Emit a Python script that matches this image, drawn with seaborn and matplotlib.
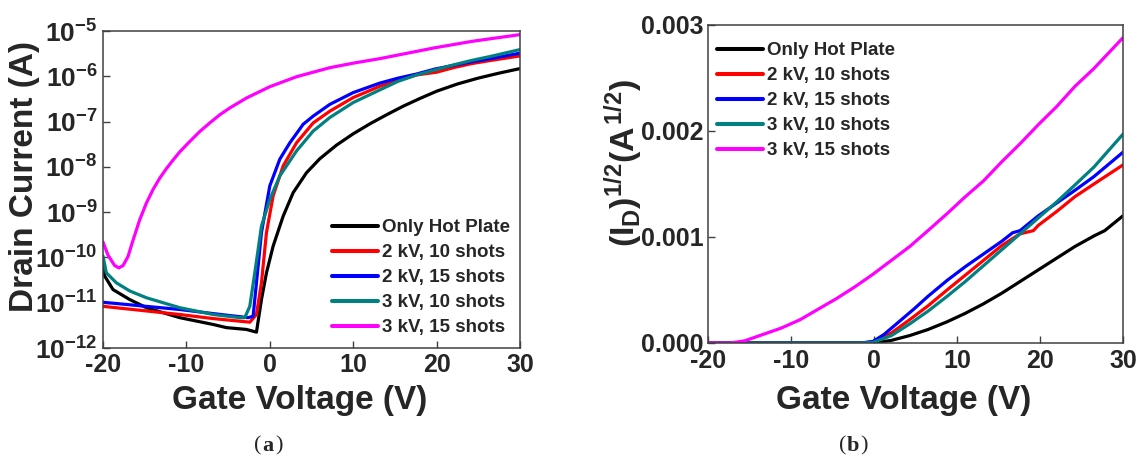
import numpy as np
import pandas as pd
import matplotlib
matplotlib.use("Agg")
import matplotlib.pyplot as plt
import seaborn as sns

# ---------------- data ----------------
labels = ["Only Hot Plate", "2 kV, 10 shots", "2 kV, 15 shots", "3 kV, 10 shots", "3 kV, 15 shots"]
colors = ["#000000", "#ff0000", "#0000ff", "#008080", "#ff00ff"]

# Panel (a): gate voltage (V) and log10 of drain current (A)
va_black = [-20, -19.8, -18.8, -16.8, -14.8, -10.8, -6.8, -5.2, -2.8, -1.6, -1.0, -0.4, 0.4, 1.6, 2.8, 4.4, 6.0, 8.0, 10, 12, 14, 16, 18, 20, 22.5, 25, 27.5, 30]
la_black = [-10.05, -10.41, -10.71, -10.93, -11.11, -11.33, -11.48, -11.55, -11.59, -11.65, -10.93, -10.34, -9.75, -9.09, -8.57, -8.13, -7.82, -7.52, -7.27, -7.05, -6.85, -6.66, -6.49, -6.33, -6.17, -6.04, -5.93, -5.83]

va_red = [-20, -10.8, -6.8, -2.4, -1.6, -1.0, -0.4, 0.4, 1.6, 3.2, 5.2, 7.2, 10, 13.2, 15.4, 17.6, 20, 22, 24.2, 26.5, 30]
la_red = [-11.08, -11.26, -11.35, -11.43, -11.26, -10.56, -9.45, -8.64, -7.98, -7.47, -7.03, -6.77, -6.47, -6.22, -6.09, -5.97, -5.91, -5.81, -5.72, -5.65, -5.55]

va_blue = [-20, -10.8, -6.8, -2.6, -2.0, -1.6, -1.0, 0, 1.2, 2.4, 4.0, 5.2, 7.2, 10, 13.2, 15.4, 17.6, 19.8, 22, 24.2, 26.5, 30]
la_blue = [-10.99, -11.15, -11.24, -11.33, -11.30, -10.56, -9.45, -8.42, -7.83, -7.47, -7.06, -6.88, -6.62, -6.36, -6.15, -6.04, -5.95, -5.84, -5.76, -5.68, -5.61, -5.49]

va_teal = [-20, -19.6, -18.4, -16.8, -14.8, -10.8, -6.8, -3.6, -3.0, -2.4, -1.8, -1.0, 0, 1.2, 3.2, 5.2, 7.2, 10, 13.2, 15.4, 17.6, 19.8, 22, 24.2, 26.5, 30]
la_teal = [-9.97, -10.34, -10.56, -10.74, -10.89, -11.11, -11.26, -11.33, -11.33, -11.08, -10.34, -9.31, -8.72, -8.20, -7.65, -7.21, -6.91, -6.58, -6.30, -6.11, -5.97, -5.86, -5.75, -5.65, -5.56, -5.41]

va_mag = [-20, -19.4, -18.6, -18.1, -17.6, -17.0, -16.4, -15.6, -14.8, -14.0, -13.2, -12.4, -11.6, -10.8, -9.6, -8.4, -7.2, -6.0, -4.8, -2.8, 0, 3.2, 7.2, 10, 13.2, 15.4, 17.6, 19.8, 22, 24.2, 26.5, 30]
la_mag = [-9.66, -9.95, -10.18, -10.23, -10.18, -9.98, -9.62, -9.17, -8.80, -8.50, -8.25, -8.04, -7.85, -7.67, -7.44, -7.22, -7.03, -6.85, -6.70, -6.48, -6.23, -6.01, -5.81, -5.71, -5.61, -5.53, -5.45, -5.37, -5.30, -5.23, -5.17, -5.08]

# Panel (b): gate voltage (V) and sqrt(I_D) (A^1/2)
vb_black = [-20, -10, 0, 2.1, 4.3, 6.5, 8.8, 11.0, 13.2, 15.4, 17.6, 19.8, 22.0, 24.2, 26.5, 27.8, 30]
sb_black = [0, 0, 0, 0.000025, 0.00007, 0.000127, 0.0002, 0.00028, 0.00037, 0.00047, 0.00058, 0.00069, 0.0008, 0.00091, 0.00101, 0.00106, 0.0012]

vb_red = [-20, -10, -1.5, -0.1, 2.1, 4.3, 6.5, 8.8, 11.0, 13.2, 15.4, 17.6, 19.2, 19.8, 22.0, 24.2, 26.5, 30]
sb_red = [0, 0, 0, 0.00001, 0.000095, 0.00022, 0.00035, 0.0005, 0.00064, 0.00078, 0.00092, 0.00103, 0.00106, 0.00111, 0.00124, 0.00138, 0.0015, 0.00168]

vb_blue = [-20, -10, -1.5, -0.1, 1.2, 3.0, 4.8, 6.5, 8.8, 11.0, 13.2, 15.4, 16.7, 17.6, 19.8, 22.0, 24.2, 26.5, 30]
sb_blue = [0, 0, 0, 0.000016, 0.00008, 0.0002, 0.00032, 0.00044, 0.00059, 0.00072, 0.00084, 0.00096, 0.00104, 0.00106, 0.0012, 0.00132, 0.00144, 0.00157, 0.0018]

vb_teal = [-20, -10, -1.5, -0.1, 2.1, 4.3, 6.5, 8.8, 11.0, 13.2, 15.4, 17.6, 19.8, 22.0, 24.2, 26.5, 30]
sb_teal = [0, 0, 0, 0.000006, 0.00007, 0.00018, 0.0003, 0.00044, 0.00058, 0.00073, 0.00088, 0.00103, 0.00118, 0.00133, 0.00149, 0.00166, 0.00197]

vb_mag = [-20, -17.3, -15.6, -13.4, -11.2, -8.9, -6.7, -4.5, -2.3, -0.1, 2.1, 4.3, 6.5, 8.8, 11.0, 13.2, 15.4, 17.6, 19.8, 22.0, 24.2, 26.5, 30]
sb_mag = [0, 0, 0.00002, 0.00008, 0.00014, 0.00022, 0.00032, 0.00042, 0.00053, 0.00065, 0.00078, 0.00091, 0.00106, 0.00122, 0.00138, 0.00153, 0.00171, 0.00188, 0.00206, 0.00223, 0.00242, 0.00259, 0.00288]

xticks = [-20, -10, 0, 10, 20, 30]
a_yticks_exp = [-12, -11, -10, -9, -8, -7, -6, -5]
b_yticks = [0.000, 0.001, 0.002, 0.003]

# ---------------- frames ----------------
rows_a = []
for lab, v, l in zip(labels, [va_black, va_red, va_blue, va_teal, va_mag],
                     [la_black, la_red, la_blue, la_teal, la_mag]):
    for x, y in zip(v, l):
        rows_a.append({"V": x, "I": 10.0 ** y, "sample": lab})
df_a = pd.DataFrame(rows_a)

rows_b = []
for lab, v, s in zip(labels, [vb_black, vb_red, vb_blue, vb_teal, vb_mag],
                     [sb_black, sb_red, sb_blue, sb_teal, sb_mag]):
    for x, y in zip(v, s):
        rows_b.append({"V": x, "S": y, "sample": lab})
df_b = pd.DataFrame(rows_b)

# ---------------- style ----------------
sns.set_style("ticks")
plt.rcParams["font.family"] = ["Liberation Sans", "DejaVu Sans"]
plt.rcParams["font.weight"] = "bold"
plt.rcParams["mathtext.fontset"] = "custom"
plt.rcParams["mathtext.rm"] = "Liberation Sans:bold"
plt.rcParams["mathtext.it"] = "Liberation Sans:bold"
plt.rcParams["mathtext.bf"] = "Liberation Sans:bold"
plt.rcParams["axes.unicode_minus"] = False

W, H = 1137, 457
fig = plt.figure(figsize=(W / 100, H / 100), dpi=100)

def px_axes(x0, y0, x1, y1):
    return fig.add_axes([x0 / W, 1 - y1 / H, (x1 - x0) / W, (y1 - y0) / H])

ax_a = px_axes(103, 31, 520, 348)
ax_b = px_axes(708, 25, 1123, 343)

palette = dict(zip(labels, colors))
LW = 2.3

sns.lineplot(data=df_a, x="V", y="I", hue="sample", hue_order=labels, palette=palette,
             units="sample", estimator=None, sort=False, lw=LW, ax=ax_a)
sns.lineplot(data=df_b, x="V", y="S", hue="sample", hue_order=labels, palette=palette,
             units="sample", estimator=None, sort=False, lw=LW, ax=ax_b)

spine_col = "#404040"
for ax in (ax_a, ax_b):
    for s in ax.spines.values():
        s.set_visible(True)
        s.set_color(spine_col)
        s.set_linewidth(1.1)
    ax.set_xlim(-20, 30)
    ax.set_xticks(xticks)
    ax.set_xticklabels([str(t) for t in xticks])
    ax.tick_params(axis="both", direction="in", length=5, width=1, color=spine_col,
                   labelsize=18, top=False, right=False)
    ax.set_xlabel("")
    ax.set_ylabel("")
    ax.minorticks_off()
    for t in ax.get_xticklabels() + ax.get_yticklabels():
        t.set_fontweight("bold")

ax_a.tick_params(axis="x", pad=3.5)
ax_b.tick_params(axis="x", pad=4.5)

ax_a.set_yscale("log")
ax_a.set_ylim(1e-12, 1e-5)
ax_a.set_yticks([10.0 ** e for e in a_yticks_exp])
ax_a.set_yticklabels([r"$10^{%d}$" % e for e in a_yticks_exp])
ax_a.minorticks_off()
ax_a.tick_params(axis="y", pad=4, labelsize=19)

ax_b.set_ylim(0, 0.003)
ax_b.set_yticks(b_yticks)
ax_b.set_yticklabels(["%.3f" % t for t in b_yticks])
ax_b.tick_params(axis="y", pad=3.5)

# legends
LFS = 13.5
for ax, (lx, ly) in ((ax_a, (332, 219)), (ax_b, (717, 42))):
    leg = ax.legend(loc="upper left", bbox_to_anchor=(lx / W, 1 - ly / H),
                    bbox_transform=fig.transFigure, frameon=False, borderpad=0,
                    borderaxespad=0, handlelength=2.45, handletextpad=0.22,
                    labelspacing=0.42, prop={"size": LFS, "weight": "bold"})
    for line in leg.get_lines():
        line.set_linewidth(LW + 0.6)

# axis labels
fig.text(300 / W, 1 - 401 / H, "Gate Voltage (V)", ha="center", va="center",
         fontsize=24, fontweight="bold")
fig.text(904 / W, 1 - 401 / H, "Gate Voltage (V)", ha="center", va="center",
         fontsize=24, fontweight="bold")
fig.text(25 / W, 1 - 176 / H, "Drain Current (A)", ha="center", va="center",
         rotation=90, fontsize=24, fontweight="bold")
fig.text(624 / W, 1 - 163 / H, r"$(I_D)^{1/2}(A^{1/2})$", ha="center", va="center",
         rotation=90, fontsize=24.5)

# captions
for cx, letter in ((268, "a"), (853, "b")):
    fig.text((cx - 7) / W, 1 - 446 / H, "(", ha="right", va="center", fontsize=16,
             family="Liberation Serif", fontweight="normal")
    fig.text(cx / W, 1 - 446 / H, letter, ha="center", va="center", fontsize=16,
             family="Liberation Serif", fontweight="bold")
    fig.text((cx + 7) / W, 1 - 446 / H, ")", ha="left", va="center", fontsize=16,
             family="Liberation Serif", fontweight="normal")

fig.savefig("out.png", dpi=100, facecolor="white")
